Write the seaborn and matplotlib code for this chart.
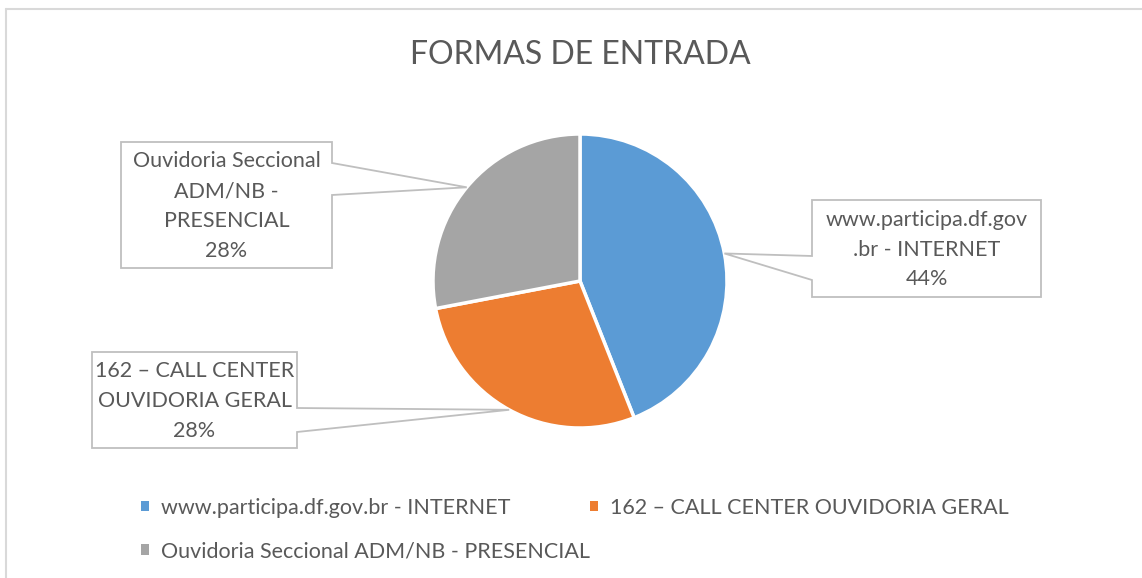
import numpy as np
import seaborn as sns
import matplotlib.pyplot as plt
from matplotlib.patches import Patch, Polygon

# Daten
categories = ["www.participa.df.gov.br - INTERNET",
              "162 – CALL CENTER OUVIDORIA GERAL",
              "Ouvidoria Seccional ADM/NB - PRESENCIAL"]
values = [44, 28, 28]
wrapped = ["www.participa.df.gov\n.br - INTERNET",
           "162 – CALL CENTER\nOUVIDORIA GERAL",
           "Ouvidoria Seccional\nADM/NB -\nPRESENCIAL"]
title = "FORMAS DE ENTRADA"

# Layout (Pixel, y von oben)
W, H = 1142, 578
center = (580, 281)
radius = 147
# Box: links, oben, rechts, unten, Seite des Zeigers, Zeiger-Ansatz (y1, y2)
boxes = [
    (812, 200, 1041, 297, "left", (256, 280)),
    (92, 352, 297, 448, "right", (408, 432)),
    (121, 142, 332, 268, "right", (163, 195)),
]

sns.set_theme(style="white")
colors = sns.color_palette(["#5B9BD5", "#ED7D31", "#A5A5A5"])
text_color = "#595959"
plt.rcParams['font.family'] = ['Lato', 'DejaVu Sans']
fs = 15.5

fig = plt.figure(figsize=(W / 100, H / 100), dpi=100)
ax = fig.add_axes([0, 0, 1, 1])


def fy(y):
    return H - y


wedges, _ = ax.pie(values, colors=colors, startangle=90, counterclock=False,
                   center=(center[0], fy(center[1])), radius=radius,
                   wedgeprops=dict(edgecolor="white", linewidth=2.5),
                   frame=True)
ax.set_xlim(0, W)
ax.set_ylim(0, H)
ax.set_aspect("equal")
ax.axis("off")

total = sum(values)
for wedge, val, lab, (x0, y0, x1, y1, side, (p1, p2)) in zip(wedges, values, wrapped, boxes):
    mid = np.deg2rad((wedge.theta1 + wedge.theta2) / 2)
    tip = (wedge.center[0] + wedge.r * np.cos(mid), wedge.center[1] + wedge.r * np.sin(mid))
    if side == "right":
        pts = [(x0, y0), (x1, y0), (x1, p1), None, (x1, p2), (x1, y1), (x0, y1)]
    else:
        pts = [(x0, y0), (x1, y0), (x1, y1), (x0, y1), (x0, p2), None, (x0, p1)]
    pts = [tip if p is None else (p[0], fy(p[1])) for p in pts]
    ax.add_patch(Polygon(pts, closed=True, facecolor="white", edgecolor="#BFBFBF",
                         linewidth=1.3, zorder=5))
    pct = f"{round(100 * val / total)}%"
    ax.text((x0 + x1) / 2, fy((y0 + y1) / 2 + 1), f"{lab}\n{pct}", ha="center", va="center",
            fontsize=fs, color=text_color, linespacing=1.62, zorder=6)

ax.text(580, fy(55), title, ha="center", va="center", fontsize=23, color=text_color)

# Legende (zeilenweise Reihenfolge)
handles = [Patch(facecolor=c, edgecolor="none") for c in colors]
order = [0, 2, 1]
fig.legend([handles[i] for i in order], [categories[i] for i in order],
           loc="upper left", bbox_to_anchor=(132 / W, 1 - 489 / H), ncol=2,
           frameon=False, fontsize=fs, labelcolor=text_color,
           handlelength=0.38, handleheight=0.38, handletextpad=0.55,
           columnspacing=0.02, labelspacing=1.1, borderaxespad=0)

# Rahmen des Diagramms
ax.plot([6, 6], [0, fy(9)], color="#D9D9D9", lw=1.5, zorder=10)
ax.plot([6, W], [fy(9), fy(9)], color="#D9D9D9", lw=1.5, zorder=10)

fig.savefig("out.png", dpi=100, facecolor="white")
